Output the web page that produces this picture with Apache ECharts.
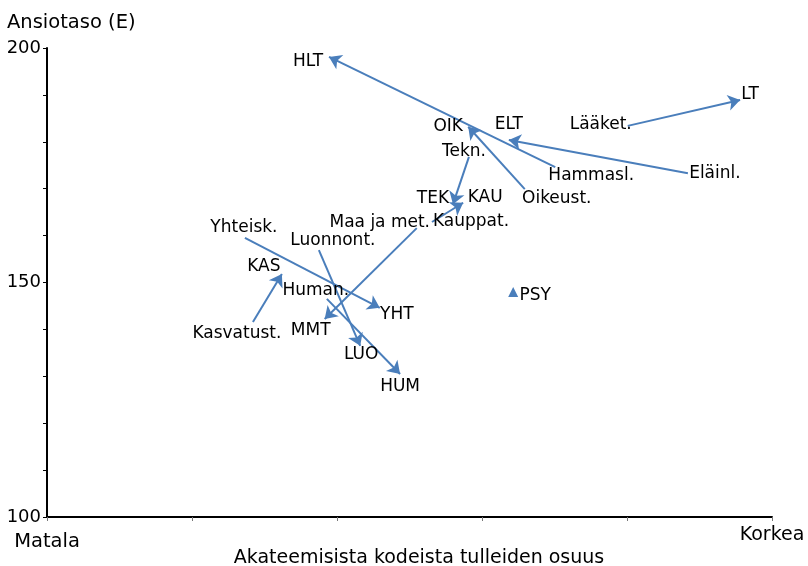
<!DOCTYPE html>
<html>
<head>
<meta charset="utf-8">
<script src="https://cdn.jsdelivr.net/npm/echarts@6/dist/echarts.min.js"></script>
<style>html,body{margin:0;padding:0;background:#fff}#c{width:808px;height:566px}</style>
</head>
<body>
<div id="c"></div>
<script>
// ---- data ----
const startNames = ['Hammasl.', 'Eläinl.', 'Lääket.', 'Oikeust.', 'Tekn.', 'Maa ja met.', 'Kauppat.', 'Yhteisk.', 'Luonnont.', 'Human.', 'Kasvatust.'];
const startX = [70.1, 88.4, 80.1, 65.9, 58.2, 51.0, 53.1, 27.3, 37.5, 38.6, 28.4];
const startY = [174.6, 173.3, 183.4, 169.9, 176.8, 161.6, 162.9, 159.5, 156.9, 146.5, 141.6];
const endNames = ['HLT', 'ELT', 'LT', 'OIK', 'TEK', 'MMT', 'KAU', 'YHT', 'LUO', 'HUM', 'KAS'];
const endX = [38.9, 63.7, 95.6, 58.1, 56.0, 38.3, 57.4, 45.9, 43.2, 48.7, 32.4];
const endY = [198.1, 180.4, 188.9, 183.2, 166.7, 142.2, 167.0, 144.6, 136.5, 130.5, 151.8];
const pointNames = ['PSY'];
const pointX = [64.3];
const pointY = [148.0];
const xTickLabels = {0: 'Matala', 100: 'Korkea'};
const yTickLabels = [100, 150, 200];
const yAxisTitle = 'Ansiotaso (E)';
const xAxisTitle = 'Akateemisista kodeista tulleiden osuus';

// ---- layout (label offsets in px) ----
const startOff = [[36, 8], [27, 0], [-27, -1], [32, 9], [-5, -5], [-37, -6], [39, 0], [-1, -10], [14, -10], [-11, -8], [-16, 12]];
const endOff = [[-21, 5], [0, -15], [10, -5], [-20, 0], [-20, -6], [-14, 11], [22, -5], [17, 7], [1, 9], [0, 13], [-18, -7]];
const pointOff = [[22, 4]];

const BLUE = '#4a7ebb';
const FONT = 'DejaVu Sans';
const lbl = {show: true, position: 'inside', align: 'center', verticalAlign: 'middle',
  color: '#000', fontFamily: FONT, fontSize: 17, textBorderWidth: 0, textBorderColor: 'transparent',
  formatter: p => p.name};

const chart = echarts.init(document.getElementById('c'), null, {renderer: 'canvas'});
chart.setOption({
  animation: false,
  title: [
    {text: yAxisTitle, left: 2, top: 8,
      textStyle: {fontFamily: FONT, fontSize: 19.5, fontWeight: 'normal', color: '#000'}},
    {text: xAxisTitle, left: 419, top: 549, textAlign: 'center', padding: 0,
      textStyle: {fontFamily: FONT, fontSize: 19, fontWeight: 'normal', color: '#000'}}
  ],
  grid: {left: 47, right: 36, top: 48, bottom: 49, containLabel: false, outerBoundsMode: 'none'},
  xAxis: {
    type: 'value', min: 0, max: 100, interval: 20,
    axisLine: {show: true, lineStyle: {color: '#000', width: 2}},
    axisTick: {show: true, length: 4, lineStyle: {color: '#777'}},
    splitLine: {show: false},
    axisLabel: {show: true, margin: 9, fontFamily: FONT, fontSize: 19, color: '#000',
      formatter: v => v === 0 ? '{m|' + xTickLabels[v] + '}' : (v === 100 ? '{k|' + xTickLabels[v] + '}' : ''),
      rich: {
        m: {fontFamily: FONT, fontSize: 19.5, color: '#000', padding: [6, 0, 0, 0]},
        k: {fontFamily: FONT, fontSize: 19, color: '#000', padding: [0, 0, 0, 0]}
      }}
  },
  yAxis: {
    type: 'value', min: 100, max: 200, interval: 10,
    axisLine: {show: true, lineStyle: {color: '#000', width: 2}},
    axisTick: {show: true, length: 4, lineStyle: {color: '#000'}},
    splitLine: {show: false},
    axisLabel: {margin: 6, fontFamily: FONT, fontSize: 18, color: '#000',
      formatter: v => yTickLabels.indexOf(v) >= 0 ? String(v) : ''}
  },
  series: [
    {
      type: 'lines', coordinateSystem: 'cartesian2d', silent: true,
      symbol: ['none', 'arrow'], symbolSize: 12,
      lineStyle: {color: BLUE, width: 2, opacity: 1, curveness: 0},
      data: startX.map((x, i) => ({coords: [[x, startY[i]], [endX[i], endY[i]]]}))
    },
    {
      type: 'scatter', symbolSize: 0, silent: true, label: lbl,
      itemStyle: {opacity: 1},
      data: startX.map((x, i) => ({name: startNames[i], value: [x, startY[i]], label: {offset: startOff[i]}}))
    },
    {
      type: 'scatter', symbolSize: 0, silent: true, label: lbl,
      itemStyle: {opacity: 1},
      data: endX.map((x, i) => ({name: endNames[i], value: [x, endY[i]], label: {offset: endOff[i]}}))
    },
    {
      type: 'scatter', symbol: 'triangle', symbolSize: 10, silent: true,
      itemStyle: {color: BLUE, opacity: 1},
      label: lbl,
      data: pointX.map((x, i) => ({name: pointNames[i], value: [x, pointY[i]], label: {offset: pointOff[i]}}))
    }
  ]
});
</script>
</body>
</html>
